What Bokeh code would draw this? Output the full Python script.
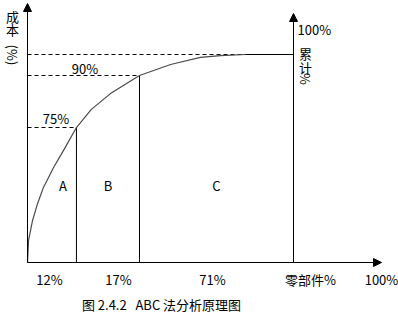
import math
from bokeh.plotting import figure
from bokeh.models import Range1d, Arrow, NormalHead
from bokeh.core.properties import value
from bokeh.embed import file_html
from bokeh.resources import INLINE

# ---- data (schematic ABC chart, part-share axis vs cumulative cost axis) ----
part_breaks = [0, 18.4, 42.1, 100]          # schematic x positions of class boundaries
part_shares = ["12%", "17%", "71%"]         # share of parts per class
classes = ["A", "B", "C"]
cum_levels = [64.9, 89.9, 100]              # schematic heights of cumulative cost
cum_labels = ["75%", "90%", "100%"]
curve_x = [0, 0.4, 1.9, 3.8, 6.0, 9.8, 13.5, 18.4, 24.0, 31.2, 42.1, 53.8, 65.0, 72.6, 82.0]
curve_y = [0, 10.6, 20.2, 28.4, 36.1, 45.7, 53.8, 64.9, 73.6, 81.2, 89.9, 95.2, 98.6, 99.5, 100]
caption = "图\u00a02.4.2\u00a0\u00a0\u00a0ABC\u00a0法分析原理图"
x_title = "零部件%"
x_end_label = "100%"

# ---- layout ----
W, H = 398, 315
X0, Y0 = 27, 262          # pixel position of origin
SX, SY = 2.66, 2.08       # pixels per unit
FONT = value("Noto Sans CJK SC")
FS = "13px"

p = figure(width=W, height=H, output_backend="svg", toolbar_location=None,
           x_range=Range1d(-X0 / SX, (W - X0) / SX),
           y_range=Range1d(-(H - Y0) / SY, Y0 / SY),
           min_border=0, min_border_left=0, min_border_right=0,
           min_border_top=0, min_border_bottom=0)
p.axis.visible = False
p.grid.visible = False
p.outline_line_color = None
p.background_fill_color = "white"
p.border_fill_color = "white"

def ux(px):
    return (px - X0) / SX

def vy(py):
    return (Y0 - py) / SY

head = dict(size=8, fill_color="black", line_color="black")
# axes with arrows
p.add_layout(Arrow(end=NormalHead(**head), x_start=0, y_start=0, x_end=0, y_end=vy(3),
                   line_color="black", line_width=1))
p.add_layout(Arrow(end=NormalHead(**head), x_start=0, y_start=0, x_end=ux(381), y_end=0,
                   line_color="black", line_width=1))
xr = part_breaks[-1]
p.add_layout(Arrow(end=NormalHead(**head), x_start=xr, y_start=0, x_end=xr, y_end=vy(13),
                   line_color="black", line_width=1))

# dashed guides for cumulative levels
guide_ends = [part_breaks[1], part_breaks[2], part_breaks[3]]
p.segment(x0=[0] * 3, y0=cum_levels, x1=guide_ends, y1=cum_levels,
          line_color="black", line_width=1, line_dash="4 3")
# solid part of the 100% line where curve has flattened
p.segment(x0=[curve_x[-1]], y0=[cum_levels[-1]], x1=[xr], y1=[cum_levels[-1]],
          line_color="black", line_width=1)
# class boundaries
p.segment(x0=part_breaks[1:3], y0=[0, 0], x1=part_breaks[1:3], y1=cum_levels[:2],
          line_color="black", line_width=1)

# Pareto curve
p.line(curve_x, curve_y, line_color="#4a4a4a", line_width=1.2, line_join="round")

def txt(x, y, t, align="center", angle=0.0, size=FS):
    p.text(x=[x], y=[y], text=[t], text_font=FONT, text_font_size=size,
           text_align=align, text_baseline="middle", text_color="black", angle=angle)

# class letters
for px, c in zip([62.5, 107.5, 216], classes):
    txt(ux(px), vy(184.5), c)
# share labels below axis
for px, s in zip([49, 118, 212], part_shares):
    txt(ux(px), vy(279), s)
txt(ux(310), vy(279), x_title)
txt(ux(381), vy(279), x_end_label)
# cumulative labels
txt(ux(55.5), vy(118), cum_labels[0])
txt(ux(84.5), vy(68), cum_labels[1])
txt(ux(297), vy(28.5), cum_labels[2], align="left")
# left axis title
txt(ux(12), vy(15.5), "成")
txt(ux(12), vy(28.5), "本")
txt(ux(12), vy(54.5), "(%)", angle=-math.pi / 2)
# right axis title
txt(ux(305), vy(52.5), "累")
txt(ux(305), vy(67), "计")
txt(ux(305), vy(78.5), "%", angle=-math.pi / 2)
# caption
txt(ux(161), vy(304), caption)

open("out.html", "w").write(file_html(p, INLINE))
